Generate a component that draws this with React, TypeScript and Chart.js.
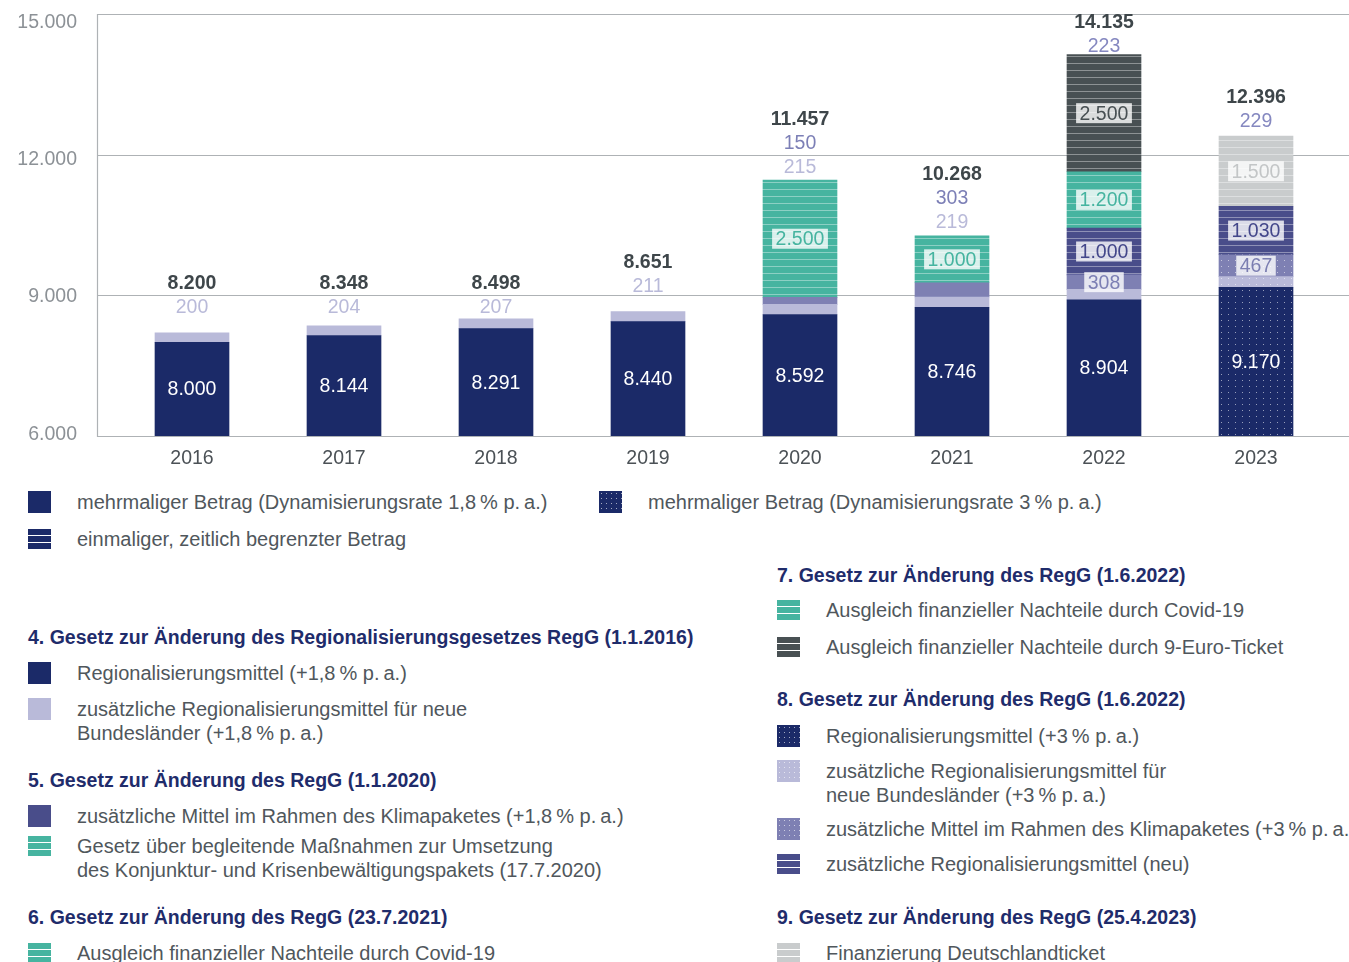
import React, { useEffect, useRef } from 'react';
import { Chart, registerables } from 'chart.js';

Chart.register(...registerables);

// ---------- data ----------
const years = ['2016', '2017', '2018', '2019', '2020', '2021', '2022', '2023'];
const totals = [8200, 8348, 8498, 8651, 11457, 10268, 14135, 12396];
const base18 = [8000, 8144, 8291, 8440, 8592, 8746, 8904, null];
const nbl18 = [200, 204, 207, 211, 215, 219, 223, null];
const klima18 = [null, null, null, null, 150, 303, 308, null];
const base3 = [null, null, null, null, null, null, null, 9170];
const nbl3 = [null, null, null, null, null, null, null, 229];
const klima3 = [null, null, null, null, null, null, null, 467];
const zusatzNeu = [null, null, null, null, null, null, 1000, 1030];
const konjunktur = [null, null, null, null, 2500, null, null, null];
const covid21 = [null, null, null, null, null, 1000, null, null];
const covid22 = [null, null, null, null, null, null, 1200, null];
const neunEuro = [null, null, null, null, null, null, 2500, null];
const dTicket = [null, null, null, null, null, null, null, 1500];
const klimaLabelAbove = [false, false, false, false, true, true, false, false];
const yTicks = [6000, 9000, 12000, 15000];

// ---------- styles ----------
const FONT = '"Liberation Sans", Arial, Helvetica, sans-serif';
const NAVY = '#1b2a68';
const LAV = '#b9bad9';
const KLIMA = '#7e80b3';
const NEU = '#494d8a';
const TEAL = '#46b4a0';
const DARK = '#485053';
const LGRAY = '#c9cccd';
const GRID = '#aeb2b5';
const nblLabelColor = [LAV, LAV, LAV, LAV, LAV, LAV, '#8588c0', '#8588c0'];
const labelGap = [25, 18, 11, 25, 13, 13, 8, 14];
const LINE_STEP = 24;

const fmt = (v: number) => String(v).replace(/\B(?=(\d{3})+(?!\d))/g, '.');

function stripePattern(color: string) {
  const c = document.createElement('canvas');
  c.width = 8;
  c.height = 7;
  const g = c.getContext('2d')!;
  g.fillStyle = color;
  g.fillRect(0, 0, 8, 7);
  g.fillStyle = 'rgba(255,255,255,0.38)';
  g.fillRect(0, 0, 8, 1);
  return g.createPattern(c, 'repeat')!;
}
function dotPattern(color: string) {
  const c = document.createElement('canvas');
  c.width = 7;
  c.height = 6;
  const g = c.getContext('2d')!;
  g.fillStyle = color;
  g.fillRect(0, 0, 7, 6);
  g.fillStyle = 'rgba(255,255,255,0.55)';
  g.fillRect(3, 2, 1, 1);
  return g.createPattern(c, 'repeat')!;
}

type LegendEntry = {
  x: number;
  y: number;
  heading?: boolean;
  swatch?: string;
  lines: string[];
};

const stripesCss = (c: string) =>
  `repeating-linear-gradient(to bottom, rgba(255,255,255,0.45) 0px, rgba(255,255,255,0.45) 1px, ${c} 1px, ${c} 7px)`;
const dotsCss = (c: string) =>
  `radial-gradient(circle, rgba(255,255,255,0.6) 0.7px, ${c} 1px) 0 0 / 5px 5px, ${c}`;

const swatches: Record<string, string> = {
  navy: NAVY,
  navyDots: dotsCss(NAVY),
  navyStripes: stripesCss(NAVY),
  lav: LAV,
  klimaSolid: NEU,
  tealStripes: stripesCss(TEAL),
  darkStripes: stripesCss(DARK),
  lavDots: dotsCss(LAV),
  klimaDots: dotsCss(KLIMA),
  neuStripes: stripesCss(NEU),
  grayStripes: stripesCss(LGRAY),
};

const legend: LegendEntry[] = [
  { x: 28, y: 502, swatch: 'navy', lines: ['mehrmaliger Betrag (Dynamisierungsrate 1,8\u202F% p.\u202Fa.)'] },
  { x: 599, y: 502, swatch: 'navyDots', lines: ['mehrmaliger Betrag (Dynamisierungsrate 3\u202F% p.\u202Fa.)'] },
  { x: 28, y: 539, swatch: 'navyStripes', lines: ['einmaliger, zeitlich begrenzter Betrag'] },

  { x: 28, y: 637, heading: true, lines: ['4. Gesetz zur Änderung des Regionalisierungsgesetzes RegG (1.1.2016)'] },
  { x: 28, y: 673, swatch: 'navy', lines: ['Regionalisierungsmittel (+1,8\u202F% p.\u202Fa.)'] },
  { x: 28, y: 709, swatch: 'lav', lines: ['zusätzliche Regionalisierungsmittel für neue', 'Bundesländer (+1,8\u202F% p.\u202Fa.)'] },
  { x: 28, y: 780, heading: true, lines: ['5. Gesetz zur Änderung des RegG (1.1.2020)'] },
  { x: 28, y: 816, swatch: 'klimaSolid', lines: ['zusätzliche Mittel im Rahmen des Klimapaketes (+1,8\u202F% p.\u202Fa.)'] },
  { x: 28, y: 846, swatch: 'tealStripes', lines: ['Gesetz über begleitende Maßnahmen zur Umsetzung', 'des Konjunktur- und Krisenbewältigungspakets (17.7.2020)'] },
  { x: 28, y: 917, heading: true, lines: ['6. Gesetz zur Änderung des RegG (23.7.2021)'] },
  { x: 28, y: 953, swatch: 'tealStripes', lines: ['Ausgleich finanzieller Nachteile durch Covid-19'] },

  { x: 777, y: 575, heading: true, lines: ['7. Gesetz zur Änderung des RegG (1.6.2022)'] },
  { x: 777, y: 610, swatch: 'tealStripes', lines: ['Ausgleich finanzieller Nachteile durch Covid-19'] },
  { x: 777, y: 647, swatch: 'darkStripes', lines: ['Ausgleich finanzieller Nachteile durch 9-Euro-Ticket'] },
  { x: 777, y: 699, heading: true, lines: ['8. Gesetz zur Änderung des RegG (1.6.2022)'] },
  { x: 777, y: 736, swatch: 'navyDots', lines: ['Regionalisierungsmittel (+3\u202F% p.\u202Fa.)'] },
  { x: 777, y: 771, swatch: 'lavDots', lines: ['zusätzliche Regionalisierungsmittel für', 'neue Bundesländer (+3\u202F% p.\u202Fa.)'] },
  { x: 777, y: 829, swatch: 'klimaDots', lines: ['zusätzliche Mittel im Rahmen des Klimapaketes (+3\u202F% p.\u202Fa.)'] },
  { x: 777, y: 864, swatch: 'neuStripes', lines: ['zusätzliche Regionalisierungsmittel (neu)'] },
  { x: 777, y: 917, heading: true, lines: ['9. Gesetz zur Änderung des RegG (25.4.2023)'] },
  { x: 777, y: 953, swatch: 'grayStripes', lines: ['Finanzierung Deutschlandticket'] },
];

export default function App() {
  const ref = useRef<HTMLCanvasElement>(null);

  useEffect(() => {
    const canvas = ref.current!;
    const series: any[] = [
      { data: base18, bg: NAVY, kind: 'base' },
      { data: nbl18, bg: LAV, kind: 'none' },
      { data: klima18, bg: KLIMA, kind: 'klima', labelColor: '#7c7fb4' },
      { data: base3, bg: dotPattern(NAVY), kind: 'base' },
      { data: nbl3, bg: dotPattern(LAV), kind: 'none' },
      { data: klima3, bg: dotPattern(KLIMA), kind: 'box', labelColor: '#7b7eb1' },
      { data: zusatzNeu, bg: stripePattern(NEU), kind: 'box', labelColor: '#43478a' },
      { data: konjunktur, bg: stripePattern(TEAL), kind: 'box', labelColor: TEAL },
      { data: covid21, bg: stripePattern(TEAL), kind: 'box', labelColor: TEAL },
      { data: covid22, bg: stripePattern(TEAL), kind: 'box', labelColor: TEAL },
      { data: neunEuro, bg: stripePattern(DARK), kind: 'box', labelColor: DARK },
      { data: dTicket, bg: stripePattern(LGRAY), kind: 'box', labelColor: '#c3c6c7' },
    ];

    const gridPlugin = {
      id: 'grid',
      beforeDatasetsDraw(chart: any) {
        const { ctx, chartArea, scales } = chart;
        const left = chartArea.left - 19;
        ctx.save();
        ctx.strokeStyle = GRID;
        ctx.lineWidth = 1.2;
        ctx.font = `19.5px ${FONT}`;
        ctx.textAlign = 'right';
        ctx.textBaseline = 'middle';
        yTicks.forEach((t) => {
          const py = Math.round(scales.y.getPixelForValue(t)) + 0.5;
          ctx.beginPath();
          ctx.moveTo(left, py);
          ctx.lineTo(chart.width, py);
          ctx.stroke();
          // tick labels sit slightly inside the gridline span, as in the original
          const ly = chartArea.top + 8 + (py - chartArea.top) * 0.976;
          ctx.fillStyle = '#8c9196';
          ctx.fillText(fmt(t), left - 20, ly);
        });
        ctx.beginPath();
        ctx.moveTo(left + 0.5, Math.round(scales.y.getPixelForValue(15000)));
        ctx.lineTo(left + 0.5, Math.round(scales.y.getPixelForValue(6000)) + 1);
        ctx.stroke();
        ctx.restore();
      },
    };

    const labelPlugin = {
      id: 'labels',
      afterDatasetsDraw(chart: any) {
        const { ctx, chartArea, scales } = chart;
        ctx.save();
        ctx.textAlign = 'center';
        ctx.textBaseline = 'middle';
        ctx.font = `19.5px ${FONT}`;
        series.forEach((s, di) => {
          const meta = chart.getDatasetMeta(di);
          meta.data.forEach((el: any, i: number) => {
            const v = s.data[i];
            if (v == null) return;
            const top = el.y;
            const bottom = Math.min(el.base, chartArea.bottom);
            const cy = (top + bottom) / 2;
            if (s.kind === 'base') {
              ctx.fillStyle = '#ffffff';
              ctx.fillText(fmt(v), el.x, cy + 1);
            } else if (s.kind === 'box' || (s.kind === 'klima' && !klimaLabelAbove[i])) {
              const txt = fmt(v);
              const w = ctx.measureText(txt).width + 7;
              ctx.fillStyle = 'rgba(255,255,255,0.8)';
              ctx.fillRect(el.x - w / 2, cy - 10, w, 20);
              ctx.fillStyle = s.labelColor;
              ctx.fillText(txt, el.x, cy + 1);
            }
          });
        });
        // labels above the bars
        years.forEach((_, i) => {
          const meta = chart.getDatasetMeta(0);
          const xPos = (meta.data[i] && meta.data[i].x) || scales.x.getPixelForValue(i);
          const yTop = scales.y.getPixelForValue(totals[i]);
          const lines: { t: string; c: string; bold?: boolean }[] = [];
          lines.push({ t: fmt(totals[i]), c: '#3e464a', bold: true });
          if (klimaLabelAbove[i] && klima18[i] != null) lines.push({ t: fmt(klima18[i] as number), c: '#7c7fb6' });
          const nv = nbl18[i] ?? nbl3[i];
          if (nv != null) lines.push({ t: fmt(nv), c: nblLabelColor[i] });
          const n = lines.length;
          lines.forEach((ln, k) => {
            const py = yTop - labelGap[i] - (n - 1 - k) * LINE_STEP;
            ctx.font = `${ln.bold ? 'bold ' : ''}19.5px ${FONT}`;
            ctx.fillStyle = ln.c;
            ctx.fillText(ln.t, xPos, py);
          });
        });
        ctx.restore();
      },
    };

    const chart = new Chart(canvas, {
      type: 'bar',
      data: {
        labels: years,
        datasets: series.map((s) => ({
          data: s.data,
          backgroundColor: s.bg,
          borderWidth: 0,
          barThickness: 74,
          stack: 'a',
        })),
      },
      options: {
        animation: false,
        responsive: false,
        devicePixelRatio: 1,
        layout: { autoPadding: false, padding: { top: 14, right: 17, left: 0, bottom: 0 } },
        plugins: { legend: { display: false }, tooltip: { enabled: false } },
        scales: {
          x: {
            stacked: true,
            grid: { display: false, drawTicks: false },
            border: { display: false },
            ticks: { color: '#4b5156', font: { family: FONT, size: 19.5 }, padding: 11 },
            afterFit: (s: any) => {
              s.height = 34;
            },
          },
          y: {
            stacked: true,
            min: 6000,
            max: 15000,
            afterBuildTicks: (s: any) => {
              s.ticks = yTicks.map((v) => ({ value: v }));
            },
            grid: { display: false, drawTicks: false },
            border: { display: false },
            ticks: { display: false, padding: 0 },
            afterFit: (s: any) => {
              s.width = 116;
              s.paddingTop = 0;
              s.paddingBottom = 0;
            },
          },
        },
      },
      plugins: [gridPlugin, labelPlugin],
    });
    return () => chart.destroy();
  }, []);

  return (
    <div
      style={{
        position: 'absolute',
        left: 0,
        top: 0,
        width: 1349,
        height: 962,
        overflow: 'hidden',
        background: '#ffffff',
        fontFamily: FONT,
      }}
    >
      <canvas ref={ref} width={1349} height={470} style={{ position: 'absolute', left: 0, top: 0 }} />
      {legend.map((e, i) =>
        e.heading ? (
          <div
            key={i}
            style={{
              position: 'absolute',
              left: e.x,
              top: e.y - 12,
              lineHeight: '24px',
              fontSize: 19.5,
              fontWeight: 'bold',
              color: '#1f2c6b',
              whiteSpace: 'nowrap',
            }}
          >
            {e.lines[0]}
          </div>
        ) : (
          <div key={i}>
            <div
              style={{
                position: 'absolute',
                left: e.x,
                top: e.y - 11,
                width: 23,
                height: 22,
                background: swatches[e.swatch as string],
              }}
            />
            <div
              style={{
                position: 'absolute',
                left: e.x + 49,
                top: e.y - 12,
                lineHeight: '24px',
                fontSize: 20,
                color: '#50575c',
                whiteSpace: 'nowrap',
              }}
            >
              {e.lines.map((l, k) => (
                <div key={k}>{l}</div>
              ))}
            </div>
          </div>
        )
      )}
    </div>
  );
}
